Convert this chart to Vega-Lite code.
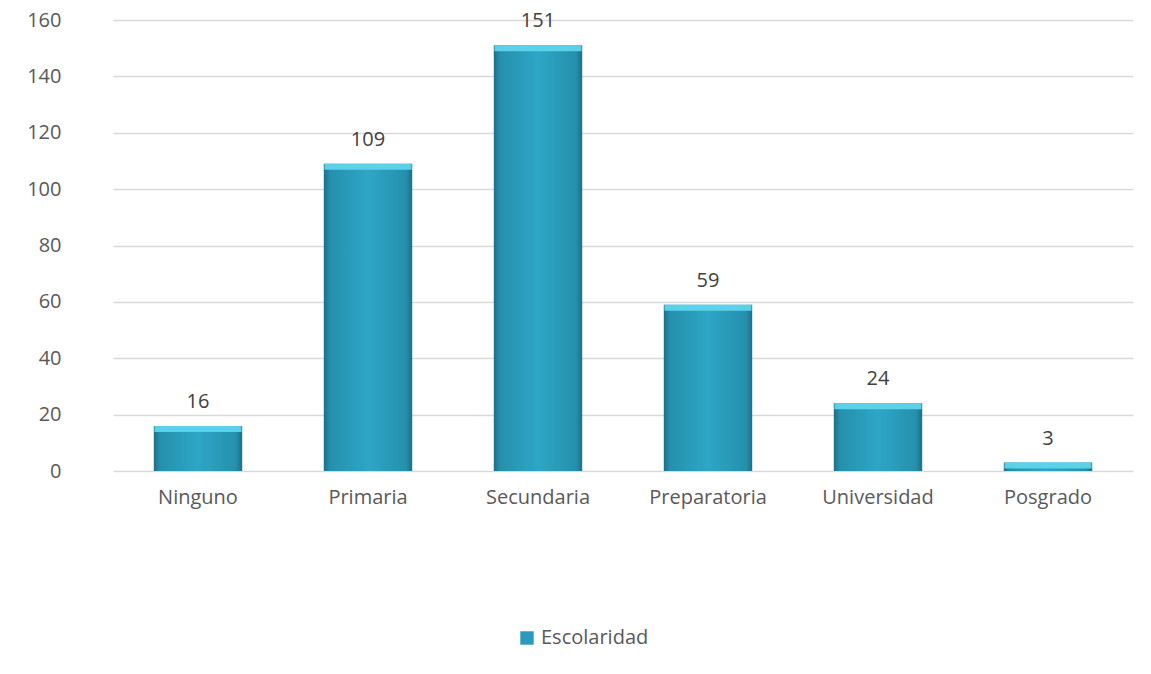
{
  "$schema": "https://vega.github.io/schema/vega-lite/v6.json",
  "autosize": "none",
  "width": 1020,
  "height": 451,
  "padding": {"left": 113, "top": 20, "right": 18, "bottom": 203},
  "background": "white",
  "config": {
    "view": {"stroke": null},
    "font": "Open Sans",
    "axis": {"labelFont": "Open Sans", "labelFontSize": 20, "labelColor": "#595959", "ticks": false, "title": null}
  },
  "data": {
    "values": [
      {"nivel": "Ninguno", "valor": 16, "serie": "Escolaridad"},
      {"nivel": "Primaria", "valor": 109, "serie": "Escolaridad"},
      {"nivel": "Secundaria", "valor": 151, "serie": "Escolaridad"},
      {"nivel": "Preparatoria", "valor": 59, "serie": "Escolaridad"},
      {"nivel": "Universidad", "valor": 24, "serie": "Escolaridad"},
      {"nivel": "Posgrado", "valor": 3, "serie": "Escolaridad"}
    ]
  },
  "encoding": {
    "x": {
      "field": "nivel", "type": "nominal", "sort": null,
      "scale": {"paddingInner": 0.48, "paddingOuter": 0.24},
      "axis": {"labelAngle": 0, "labelPadding": 16, "domain": false, "grid": false}
    },
    "y": {
      "field": "valor", "type": "quantitative",
      "scale": {"domain": [0, 160]},
      "axis": {"values": [0, 20, 40, 60, 80, 100, 120, 140, 160], "labelPadding": 52, "domain": false, "gridColor": "#d9d9d9", "gridWidth": 1.5}
    }
  },
  "layer": [
    {
      "mark": {
        "type": "bar",
        "fill": {
          "gradient": "linear", "x1": 0, "x2": 1, "y1": 0, "y2": 0,
          "stops": [
            {"offset": 0, "color": "#1c6f88"},
            {"offset": 0.07, "color": "#2590ae"},
            {"offset": 0.5, "color": "#2ea6c6"},
            {"offset": 0.93, "color": "#2590ae"},
            {"offset": 1, "color": "#1c6f88"}
          ]
        }
      }
    },
    {
      "mark": {"type": "tick", "color": "#5fd4ec", "thickness": 6, "size": 87, "yOffset": 3, "opacity": 0.95},
      "encoding": {}
    },
    {
      "mark": {"type": "point", "filled": true, "size": 0, "shape": "square"},
      "encoding": {
        "color": {
          "field": "serie", "type": "nominal",
          "scale": {"range": ["#2a9cbb"]},
          "legend": {
            "title": null, "orient": "none", "legendX": 404, "legendY": 608,
            "symbolType": "square", "symbolSize": 180, "symbolStrokeWidth": 0, "symbolOpacity": 1,
            "labelFontSize": 20, "labelColor": "#595959", "labelFont": "Open Sans", "labelOffset": 4
          }
        }
      }
    },
    {
      "mark": {"type": "text", "dy": -24, "fontSize": 20, "color": "#404040", "font": "Open Sans"},
      "encoding": {"text": {"field": "valor", "type": "quantitative"}}
    }
  ]
}
